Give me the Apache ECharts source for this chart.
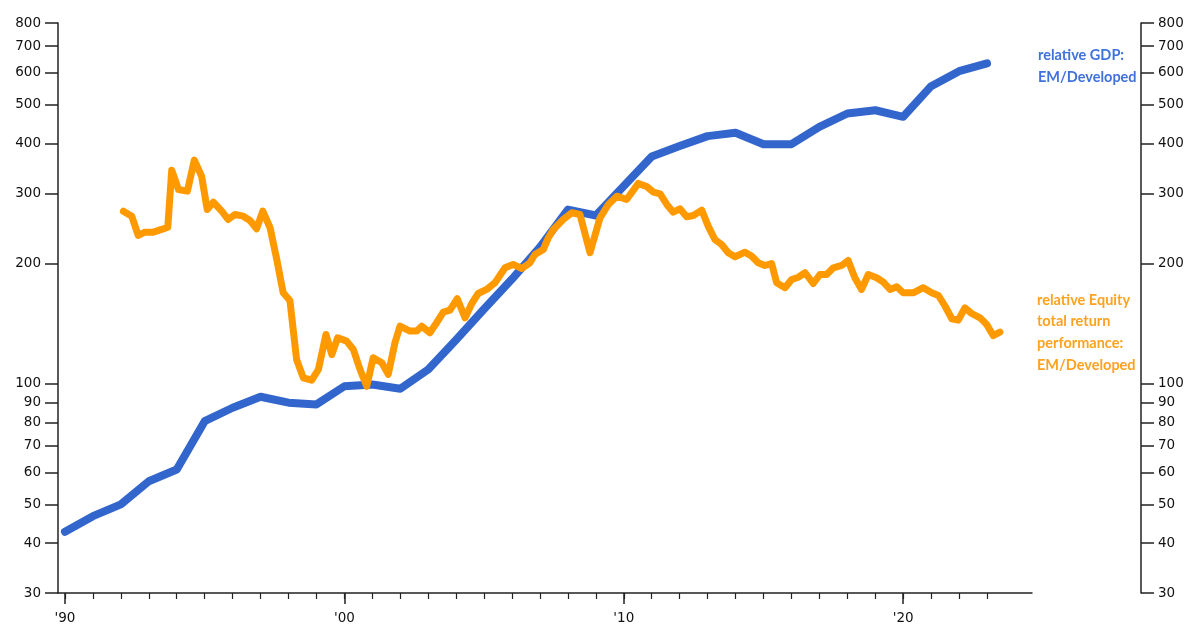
<!DOCTYPE html>
<html>
<head>
<meta charset="utf-8">
<script src="https://cdn.jsdelivr.net/npm/echarts@6/dist/echarts.min.js"></script>
<style>
    html, body { margin: 0; padding: 0; background: #ffffff; }
    #chart { width: 1193px; height: 625px; }
</style>
</head>
<body>
<div id="chart"></div>
<script>
// relative GDP: EM/Developed (yearly)
var gdpYears = [1990, 1991, 1992, 1993, 1994, 1995, 1996, 1997, 1998, 1999,
    2000, 2001, 2002, 2003, 2004, 2005, 2006, 2007, 2008, 2009,
    2010, 2011, 2012, 2013, 2014, 2015, 2016, 2017, 2018, 2019,
    2020, 2021, 2022, 2023];
var gdpValues = [42.7, 46.7, 50.0, 57.1, 61.1, 80.7, 87.2, 92.9, 89.8, 88.9,
    98.7, 99.7, 97.3, 108.7, 129, 154, 183, 220, 273, 264,
    313, 371, 394, 417, 425, 398, 398, 440, 475, 484,
    466, 556, 606, 634];

// relative equity total return performance: EM/Developed (about quarterly)
var eqTimes = [1992.09, 1992.39, 1992.62, 1992.86, 1993.16, 1993.46, 1993.68, 1993.82, 1994.06, 1994.38,
    1994.63, 1994.89, 1995.09, 1995.31, 1995.61, 1995.84, 1996.08, 1996.38, 1996.62, 1996.86,
    1997.08, 1997.34, 1997.58, 1997.81, 1998.05, 1998.29, 1998.53, 1998.83, 1999.07, 1999.34,
    1999.55, 1999.76, 2000.08, 2000.32, 2000.56, 2000.8, 2001.03, 2001.34, 2001.57, 2001.81,
    2001.99, 2002.35, 2002.59, 2002.77, 2003.06, 2003.3, 2003.54, 2003.78, 2004.04, 2004.32,
    2004.56, 2004.79, 2005.09, 2005.39, 2005.75, 2006.04, 2006.35, 2006.64, 2006.82, 2007.12,
    2007.3, 2007.48, 2007.83, 2008.14, 2008.43, 2008.79, 2009.15, 2009.45, 2009.75, 2010.1,
    2010.52, 2010.82, 2011.06, 2011.3, 2011.54, 2011.77, 2012.01, 2012.25, 2012.49, 2012.79,
    2013.02, 2013.26, 2013.5, 2013.74, 2013.98, 2014.34, 2014.58, 2014.81, 2015.05, 2015.29,
    2015.47, 2015.77, 2016.01, 2016.25, 2016.49, 2016.78, 2017.02, 2017.26, 2017.5, 2017.8,
    2018.03, 2018.27, 2018.51, 2018.75, 2019.05, 2019.29, 2019.53, 2019.77, 2020.0, 2020.36,
    2020.72, 2021.02, 2021.26, 2021.5, 2021.74, 2021.97, 2022.21, 2022.45, 2022.75, 2022.99,
    2023.22, 2023.46];
var eqValues = [270.6, 262.9, 235.3, 239.8, 239.8, 243.6, 246.8, 342.7, 306.6, 303.7,
    363.1, 331, 273.3, 285, 270.6, 258, 265.5, 262.9, 256.5, 244.6,
    270.6, 246, 204.9, 169.1, 161.8, 115.1, 103.6, 102.2, 108.7, 133,
    118.5, 130.5, 128, 122, 108.7, 98.7, 116.3, 113, 105.7, 126.8,
    139.5, 135.6, 135.6, 139.5, 134.3, 142.3, 151.2, 153, 163.4, 146.4,
    159, 168.4, 172.4, 179.2, 195.3, 199.1, 194.5, 201, 210.9, 217,
    232.2, 243.6, 258, 268.1, 265.5, 213, 260.5, 281.3, 295, 289.5,
    317.5, 312, 301.9, 299.1, 281.3, 269, 274.4, 262, 264, 272.2,
    248.3, 229.9, 223.4, 213, 208.1, 213.7, 208.8, 201, 197.9, 200.2,
    179.2, 174.1, 182.6, 185, 189.8, 178.4, 187.9, 187.9, 195.3, 197.9,
    203.7, 184.4, 172.4, 187.9, 184.4, 179.8, 172.4, 175.1, 169.1, 169.1,
    174.1, 169.1, 166.5, 156.5, 145.6, 144.4, 155.1, 150.1, 146.4, 140.9,
    132.2, 134.8];

// tick labels
var yTicks = [30, 40, 50, 60, 70, 80, 90, 100, 200, 300, 400, 500, 600, 700, 800];
var decadeTicks = [1990, 2000, 2010, 2020];
var yearTicks = [1990, 1991, 1992, 1993, 1994, 1995, 1996, 1997, 1998, 1999,
    2000, 2001, 2002, 2003, 2004, 2005, 2006, 2007, 2008, 2009,
    2010, 2011, 2012, 2013, 2014, 2015, 2016, 2017, 2018, 2019,
    2020, 2021, 2022, 2023];

var axisColor = "#222222";
var blue = "#3366cc";
var orange = "#ff9900";

function yAxisCfg(pos, offset) {
    return {
        type: "log",
        logBase: 10,
        min: 30,
        max: 800,
        position: pos,
        offset: offset,
        axisLine: { show: true, onZero: false, lineStyle: { color: axisColor, width: 1.5 } },
        axisTick: { show: true, length: 13, customValues: yTicks, lineStyle: { color: axisColor, width: 1.5 } },
        axisLabel: {
            customValues: yTicks,
            margin: 17,
            color: "#111111",
            fontFamily: "DejaVu Sans",
            fontSize: 13.5,
        },
        splitLine: { show: false },
    };
}

var chart = echarts.init(document.getElementById("chart"));

var option = {
    animation: false,
    backgroundColor: "#ffffff",
    grid: {
        left: 58,
        right: 161,
        top: 23,
        bottom: 32,
        containLabel: false,
        outerBoundsMode: "none",
    },
    xAxis: [
        {
            // decade ticks + labels
            type: "value",
            min: 1989.75,
            max: 2024.61,
            position: "bottom",
            axisLine: { show: true, onZero: false, lineStyle: { color: axisColor, width: 1.5 } },
            axisTick: { show: true, length: 11, customValues: decadeTicks, lineStyle: { color: axisColor, width: 1.5 } },
            axisLabel: {
                customValues: decadeTicks,
                margin: 18,
                color: "#111111",
                fontFamily: "DejaVu Sans",
                fontSize: 13.5,
                formatter: function (v) {
                    return "'" + String(v).slice(2);
                },
            },
            splitLine: { show: false },
        },
        {
            // yearly minor ticks
            type: "value",
            min: 1989.75,
            max: 2024.61,
            position: "bottom",
            axisLine: { show: false, onZero: false },
            axisTick: { show: true, length: 6, customValues: yearTicks, lineStyle: { color: axisColor, width: 1.2 } },
            axisLabel: { show: false },
            splitLine: { show: false },
        },
    ],
    yAxis: [yAxisCfg("left", 0), yAxisCfg("right", 109)],
    series: [
        {
            name: "relative GDP: EM/Developed",
            type: "line",
            xAxisIndex: 0,
            yAxisIndex: 0,
            showSymbol: false,
            symbol: "none",
            lineStyle: { color: blue, width: 8, cap: "round", join: "round" },
            data: gdpYears.map(function (y, i) { return [y, gdpValues[i]]; }),
            z: 2,
        },
        {
            name: "relative Equity total return performance: EM/Developed",
            type: "line",
            xAxisIndex: 0,
            yAxisIndex: 0,
            showSymbol: false,
            symbol: "none",
            lineStyle: { color: orange, width: 7, cap: "round", join: "round" },
            data: eqTimes.map(function (t, i) { return [t, eqValues[i]]; }),
            z: 3,
        },
    ],
    graphic: [
        {
            type: "text",
            left: 1038,
            top: 44,
            style: {
                text: "relative GDP:\nEM/Developed",
                fill: "#3f72dc",
                fontFamily: "Lato",
                fontWeight: "bold",
                fontSize: 14.5,
                lineHeight: 22,
            },
        },
        {
            type: "text",
            left: 1037,
            top: 289,
            style: {
                text: "relative Equity\ntotal return\nperformance:\nEM/Developed",
                fill: "#ffa21f",
                fontFamily: "Lato",
                fontWeight: "bold",
                fontSize: 14.5,
                lineHeight: 21.7,
            },
        },
    ],
};

chart.setOption(option);
</script>
</body>
</html>
